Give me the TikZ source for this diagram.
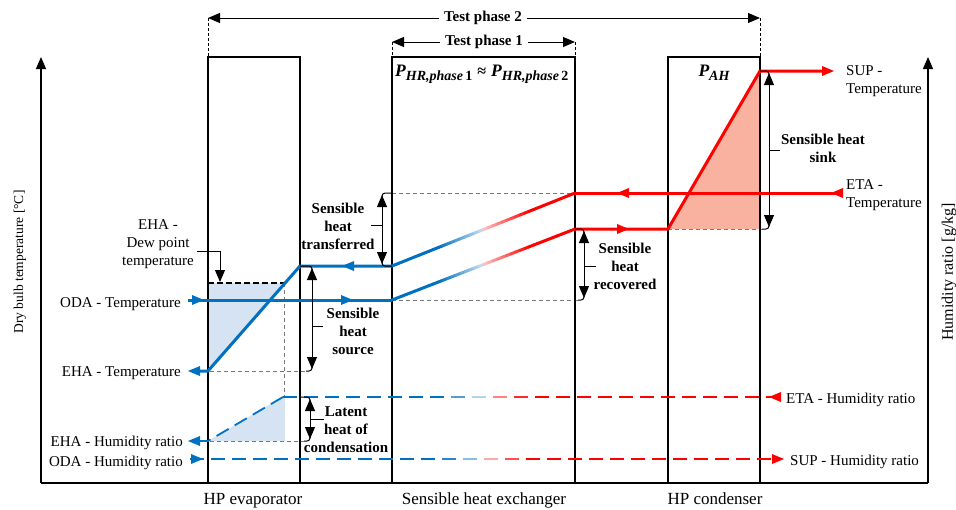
\documentclass[tikz,border=0pt]{standalone}
\usepackage{fontspec}
\setmainfont{Liberation Serif}
\usetikzlibrary{arrows.meta}
\definecolor{bl}{RGB}{0,112,192}
\definecolor{rd}{RGB}{255,0,0}
\definecolor{bfill}{RGB}{214,227,243}
\definecolor{rfill}{RGB}{250,178,160}
\definecolor{gline}{RGB}{120,120,120}

\newcommand\fs[1]{\fontsize{#1}{18}\selectfont}

\newcommand\setgc[1]{%
  \pgfmathsetmacro\gx{#1}%
  \pgfmathsetmacro\gu{max(-10,min(10,(\gx-440)/45))}%
  \pgfmathsetmacro\gv{max(-10,min(10,(\gx-485)/45))}%
  \pgfmathtruncatemacro\bp{max(20,min(100,100-\gu*80))}%
  \pgfmathtruncatemacro\rp{max(25,min(100,25+\gv*75))}%
  \ifdim\gx pt<485pt\relax\colorlet{gc}{bl!\bp!white}\else\colorlet{gc}{rd!\rp!white}\fi}

\newcommand\gradline[4]{%
  \foreach \i in {1,...,40}{%
    \pgfmathsetmacro\xa{#1+(#3-#1)*(\i-1)/40}%
    \pgfmathsetmacro\ya{#2+(#4-#2)*(\i-1)/40}%
    \pgfmathsetmacro\xb{#1+(#3-#1)*\i/40}%
    \pgfmathsetmacro\yb{#2+(#4-#2)*\i/40}%
    \setgc{(\xa+\xb)/2}%
    \draw[gc,flowline,line cap=round] (\xa,\ya) -- (\xb,\yb);}}

\newcommand\graddash[3]{%
  \pgfmathtruncatemacro\nd{(#2-#1)/21}%
  \foreach \k in {0,...,\nd}{%
    \pgfmathsetmacro\xa{#1+21*\k}%
    \pgfmathsetmacro\xb{min(#2,\xa+14)}%
    \setgc{(\xa+\xb)/2}%
    \draw[gc,humline] (\xa,#3) -- (\xb,#3);}}

\newcommand\hr[3]{\fill[#1] (#2,#3) -- ++(-12,-5) -- ++(0,10) -- cycle;}
\newcommand\hl[3]{\fill[#1] (#2,#3) -- ++(12,-5) -- ++(0,10) -- cycle;}

\newcommand\PHR[1]{{\fs{17.5}\bfseries\itshape P}\raisebox{-4pt}{\fs{14}\bfseries\itshape HR,phase\,\upshape #1}}

\tikzset{
  flowline/.style={line width=3pt},
  humline/.style={line width=1.8pt},
  unitbox/.style={draw=black, line width=1.1pt},
  axisline/.style={line width=1.2pt, -{Triangle[length=12pt,width=10pt]}},
  dimarrow/.style={line width=1pt, {Triangle[length=12pt,width=10pt]}-{Triangle[length=12pt,width=10pt]}},
  hookline/.style={line width=1pt, rounded corners=3pt},
  guideline/.style={gline, line width=0.8pt, dash pattern=on 4pt off 3pt},
  extline/.style={black, line width=0.7pt, dash pattern=on 3pt off 2pt},
  lbl/.style={font=\fs{15}, inner sep=0pt},
  unitlbl/.style={font=\fs{17}, inner sep=0pt, anchor=base},
  blbl/.style={font=\bfseries\fs{15}, inner sep=0pt, align=center},
}

\begin{document}
\begin{tikzpicture}[x=1pt,y=-1pt]
\useasboundingbox (0,0) rectangle (956,509);

% fills
\fill[bfill] (208,283) -- (285,283) -- (208,371) -- cycle;
\fill[bfill] (208,441) -- (282,397) -- (285,397) -- (285,441) -- cycle;
\fill[rfill] (668,229) -- (760,71) -- (760,229) -- cycle;

% guide lines
\draw[guideline] (210,371) -- (306,371);
\draw[guideline] (284,283) -- (284,397);
\draw[guideline] (210,441) -- (304,441);
\draw[guideline] (392,193) -- (575,193);
\draw[guideline] (392,300) -- (578,300);
\draw[guideline] (668,229) -- (762,229);
\draw[black, line width=1.2pt, dash pattern=on 6pt off 3pt] (208,283) -- (287,283);

% axes
\draw[axisline] (41,483) -- (41,57);
\draw[line width=1.2pt] (41,483) -- (928,483);
\draw[axisline] (928,483) -- (928,57);

% units
\draw[unitbox] (208,57) rectangle (300,483);
\draw[unitbox] (392,57) rectangle (575,483);
\draw[unitbox] (668,57) rectangle (760,483);

% extension lines
\draw[extline] (208,18) -- (208,57);
\draw[extline] (760,18) -- (760,71);
\draw[extline] (392,42) -- (392,57);
\draw[extline] (575,42) -- (575,57);

% test phases
\draw[dimarrow] (208,18) -- (760,18);
\node[fill=white, font=\bfseries\fs{15}, inner sep=5pt] (tp2) at (483,18) {Test phase 2};
\draw[dimarrow] (392,42) -- (575,42);
\node[fill=white, font=\bfseries\fs{15}, inner sep=5pt] (tp1) at (484,42) {Test phase 1};

% supply air temperature path
\draw[bl,flowline] (188,300) -- (392,300);
\gradline{392}{300}{575}{229}
\draw[rd,flowline,line join=round] (575,229) -- (668,229) -- (760,71) -- (823,71);
\hr{bl}{204}{300}
\hr{bl}{353}{300}
\hr{rd}{629}{229}
\hr{rd}{834}{71}

% exhaust air temperature path
\draw[rd,flowline] (843,193) -- (575,193);
\gradline{392}{266}{575}{193}
\draw[bl,flowline,line join=round] (392,266) -- (300,266) -- (208,371) -- (199,371);
\hl{rd}{831}{193}
\hl{rd}{617}{193}
\hl{bl}{342}{266}
\hl{bl}{188}{371}

% humidity lines
\graddash{283}{780}{397}
\draw[bl,humline,dash pattern=on 14pt off 7pt] (283,397) -- (208,441) -- (198,441);
\hl{rd}{769}{397}
\hl{bl}{188}{441}
\graddash{190}{772}{459}
\hr{bl}{203}{459}
\hr{rd}{784}{459}

% brackets
\draw[hookline] (300,266) -| (312,276);
\draw[hookline] (306,371) -| (312,361);
\draw[dimarrow] (312,268) -- (312,369);
\draw[line width=1pt] (312,326) -- (323,326);

\draw[hookline] (392,193) -| (382,203);
\draw[hookline] (392,266) -| (382,256);
\draw[dimarrow] (382,195) -- (382,264);
\draw[line width=1pt] (382,225) -- (371,225);

\draw[hookline] (575,229) -| (584,239);
\draw[hookline] (578,300) -| (584,290);
\draw[dimarrow] (584,231) -- (584,298);
\draw[line width=1pt] (584,266) -- (596,266);

\draw[hookline] (760,71) -| (769,81);
\draw[hookline] (762,229) -| (769,219);
\draw[dimarrow] (769,73) -- (769,227);
\draw[line width=1pt] (769,150) -- (780,150);

\draw[hookline] (300,397) -| (310,407);
\draw[hookline] (304,441) -| (310,431);
\draw[dimarrow] (310,399) -- (310,439);
\draw[line width=1pt] (310,419) -- (324,419);

\draw[line width=1pt, -{Triangle[length=12pt,width=10pt]}] (197,251) -| (220,282);

% power labels
\node[anchor=base west, inner sep=0pt] (phr) at (395,76) {\PHR{1}\enspace{\fs{16}\bfseries ≈}\enspace\PHR{2}};
\node[anchor=base, inner sep=0pt] (pah) at (714,76) {{\fs{17.5}\bfseries\itshape P}\raisebox{-4pt}{\fs{14}\bfseries\itshape AH}};

% left labels
\node[lbl, anchor=base east] (odat) at (181,307) {ODA - Temperature};
\node[lbl, anchor=base east] (ehat) at (181,376) {EHA - Temperature};
\node[lbl, anchor=base east] (ehah) at (183,446) {EHA - Humidity ratio};
\node[lbl, anchor=base east] (odah) at (183,466) {ODA - Humidity ratio};
\node[lbl, align=center] (dew) at (158,244) {EHA -\\Dew point\\temperature};

% right labels
\node[lbl, align=left, anchor=west] (supt) at (846,81) {SUP -\\Temperature};
\node[lbl, align=left, anchor=west] (etat) at (846,195) {ETA -\\Temperature};
\node[lbl, anchor=base west] (etah) at (786,403) {ETA - Humidity ratio};
\node[lbl, anchor=base west] (suph) at (790,465) {SUP - Humidity ratio};

% bold labels
\node[blbl] (shtr) at (338,226) {Sensible\\heat\\transferred};
\node[blbl] (shso) at (353,331) {Sensible\\heat\\source};
\node[blbl] (shre) at (625,266) {Sensible\\heat\\recovered};
\node[blbl] (shsi) at (823,148) {Sensible heat\\sink};
\node[blbl] (lat) at (346,430) {Latent\\heat of\\condensation};

% unit names
\node[unitlbl] (evap) at (253,504) {HP evaporator};
\node[unitlbl] (hx) at (484,504) {Sensible heat exchanger};
\node[unitlbl] (cond) at (715,504) {HP condenser};

% axis labels
\node[rotate=90, font=\fs{13.5}, inner sep=0pt] (yl) at (20,262) {Dry bulb temperature [°C]};
\node[rotate=90, font=\fs{16}, inner sep=0pt] (yr) at (949,272) {Humidity ratio [g/kg]};
\end{tikzpicture}
\end{document}
